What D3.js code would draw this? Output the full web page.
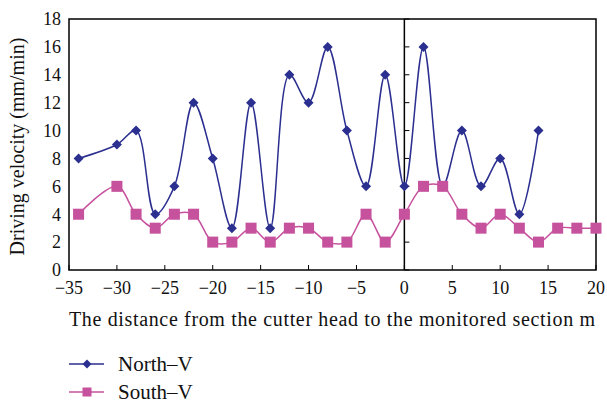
<!DOCTYPE html>
<html lang="en">
<head>
<meta charset="utf-8">
<script src="https://d3js.org/d3.v7.min.js"></script>
<style>
  body { margin: 0; background: #fff; }
  svg text { font-family: "Liberation Serif", "DejaVu Serif", serif; fill: #111; }
</style>
</head>
<body>
<svg id="chart" width="607" height="403"></svg>
<script>
// distance from cutter head (m)
var northX = [-34, -30, -28, -26, -24, -22, -20, -18, -16, -14, -12, -10, -8, -6, -4, -2, 0, 2, 4, 6, 8, 10, 12, 14];
var northV = [8, 9, 10, 4, 6, 12, 8, 3, 12, 3, 14, 12, 16, 10, 6, 14, 6, 16, 6, 10, 6, 8, 4, 10];
var southX = [-34, -30, -28, -26, -24, -22, -20, -18, -16, -14, -12, -10, -8, -6, -4, -2, 0, 2, 4, 6, 8, 10, 12, 14, 16, 18, 20];
var southV = [4, 6, 4, 3, 4, 4, 2, 2, 3, 2, 3, 3, 2, 2, 4, 2, 4, 6, 6, 4, 3, 4, 3, 2, 3, 3, 3];
var xTicks = [-35, -30, -25, -20, -15, -10, -5, 0, 5, 10, 15, 20];
var yTicks = [0, 2, 4, 6, 8, 10, 12, 14, 16, 18];

var blue = "#2b2f8f", pink = "#c6519d";

var svg = d3.select("#chart");
var mL = 69, mR = 596, mT = 19, mB = 270;

var x = d3.scaleLinear().domain([-35, 20]).range([mL, mR]);
var y = d3.scaleLinear().domain([0, 18]).range([mB, mT]);

var fmt = function(d) { return d < 0 ? "\u2212" + Math.abs(d) : String(d); };

// frame
svg.append("rect")
  .attr("x", mL).attr("y", mT)
  .attr("width", mR - mL).attr("height", mB - mT)
  .attr("fill", "none").attr("stroke", "#000").attr("stroke-width", 1.5);

// vertical axis at x = 0
svg.append("line")
  .attr("x1", x(0)).attr("x2", x(0))
  .attr("y1", mT).attr("y2", mB)
  .attr("stroke", "#000").attr("stroke-width", 1.5);

// y ticks on the zero line
svg.append("g").selectAll("line").data(yTicks).join("line")
  .attr("x1", x(0)).attr("x2", x(0) + 5)
  .attr("y1", function(d) { return y(d); }).attr("y2", function(d) { return y(d); })
  .attr("stroke", "#000").attr("stroke-width", 1);

// x ticks, pointing up
svg.append("g").selectAll("line").data(xTicks).join("line")
  .attr("x1", function(d) { return x(d); }).attr("x2", function(d) { return x(d); })
  .attr("y1", mB).attr("y2", mB - 5)
  .attr("stroke", "#000").attr("stroke-width", 1);

// tick labels
svg.append("g").selectAll("text").data(yTicks).join("text")
  .attr("x", mL - 8).attr("y", function(d) { return y(d); })
  .attr("dy", "0.35em").attr("text-anchor", "end")
  .attr("font-size", 18).text(fmt);

svg.append("g").selectAll("text").data(xTicks).join("text")
  .attr("x", function(d) { return x(d); }).attr("y", mB + 24)
  .attr("text-anchor", "middle")
  .attr("font-size", 18).text(fmt);

// axis titles
svg.append("text")
  .attr("transform", "translate(24," + ((mT + mB) / 2 + 2) + ") rotate(-90)")
  .attr("text-anchor", "middle").attr("font-size", 20)
  .text("Driving velocity (mm/min)");

svg.append("text")
  .attr("x", 69).attr("y", 326)
  .attr("textLength", 526).attr("lengthAdjust", "spacing")
  .attr("font-size", 20)
  .text("The distance from the cutter head to the monitored section m");

// series
var line = d3.line()
  .x(function(d) { return x(d[0]); })
  .y(function(d) { return y(d[1]); })
  .curve(d3.curveCatmullRom.alpha(0.5));

var north = d3.zip(northX, northV);
var south = d3.zip(southX, southV);

svg.append("path").datum(south)
  .attr("d", line).attr("fill", "none")
  .attr("stroke", pink).attr("stroke-width", 1.5);

svg.append("path").datum(north)
  .attr("d", line).attr("fill", "none")
  .attr("stroke", blue).attr("stroke-width", 1.5);

svg.append("g").selectAll("path").data(north).join("path")
  .attr("d", d3.symbol().type(d3.symbolSquare).size(50))
  .attr("transform", function(d) { return "translate(" + x(d[0]) + "," + y(d[1]) + ") rotate(45)"; })
  .attr("fill", blue);

svg.append("g").selectAll("rect").data(south).join("rect")
  .attr("x", function(d) { return x(d[0]) - 5.5; })
  .attr("y", function(d) { return y(d[1]) - 5.5; })
  .attr("width", 11).attr("height", 11)
  .attr("fill", pink);

// legend
var legend = [{ name: "North\u2013V", color: blue, mark: "diamond" },
              { name: "South\u2013V", color: pink, mark: "square" }];
var lg = svg.append("g").selectAll("g").data(legend).join("g")
  .attr("transform", function(d, i) { return "translate(0," + (364 + i * 28) + ")"; });
lg.append("line").attr("x1", 69).attr("x2", 104).attr("y1", 0).attr("y2", 0)
  .attr("stroke", function(d) { return d.color; }).attr("stroke-width", 1.5);
lg.append("path")
  .attr("d", function(d) {
    return d.mark === "diamond" ? d3.symbol().type(d3.symbolSquare).size(40)() : d3.symbol().type(d3.symbolSquare).size(81)();
  })
  .attr("transform", function(d) { return "translate(87,0)" + (d.mark === "diamond" ? " rotate(45)" : ""); })
  .attr("fill", function(d) { return d.color; });
lg.append("text").attr("x", 118).attr("y", 0).attr("dy", "0.35em")
  .attr("font-size", 21).text(function(d) { return d.name; });
</script>
</body>
</html>
